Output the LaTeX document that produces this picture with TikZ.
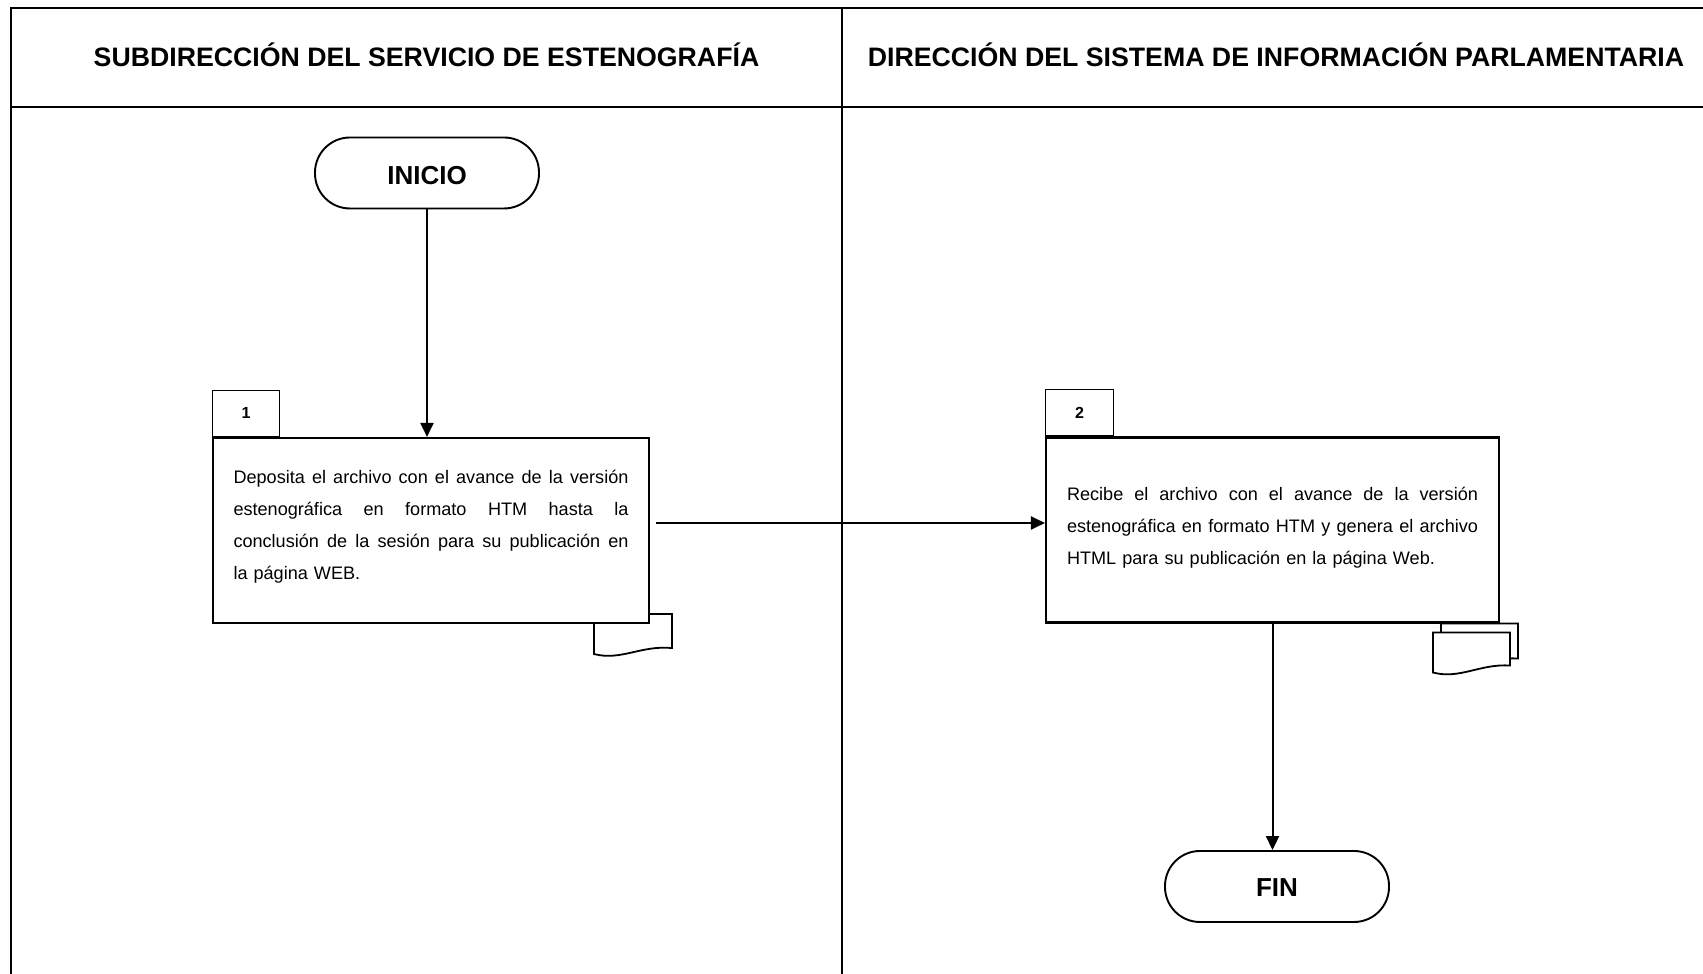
\documentclass[tikz,border=0pt]{standalone}
\usepackage{fontspec}
\setmainfont{Liberation Sans}
\usepackage{tikz}
\usetikzlibrary{arrows.meta, backgrounds}
\tikzstyle{terminal} = [rectangle, rounded corners=35pt, minimum width=224pt, minimum height=71pt, draw=black, line width=1.9pt, font=\fontsize{26}{30}\selectfont\bfseries]
\tikzstyle{process} = [rectangle, draw=black, fill=white, line width=2.1pt, minimum height=185pt, inner sep=0pt, align=left, font=\fontsize{18.1}{32}\selectfont]
\tikzstyle{tab} = [rectangle, draw=black, line width=1pt, minimum width=67pt, minimum height=46pt, inner sep=0pt, font=\fontsize{16}{18}\selectfont\bfseries]
\usetikzlibrary{positioning, calc}
\newcommand{\fila}[1]{\makebox[\hsize][s]{\spaceskip=0pt\xspaceskip=0pt #1}\\}

\begin{document}
\begin{tikzpicture}[x=1pt, y=1pt]
        \tikzstyle{lane} = [line width=2pt]
        \tikzstyle{doc} = [draw=black, fill=white, line width=1.8pt]
        \tikzstyle{flow} = [line width=2pt, -{Triangle[length=14pt,width=13pt]}]
        \useasboundingbox (0,0) rectangle (1703,974);

        % carriles
        \draw[lane] (11,0) -- (11,966.4) -- (1703,966.4);
        \draw[lane] (11,867) -- (1703,867);
        \draw[lane] (842,0) -- (842,966.4);
        \node[font=\fontsize{26.7}{30}\selectfont\bfseries] (lane1) at (426.5,919.5) {SUBDIRECCIÓN DEL SERVICIO DE ESTENOGRAFÍA};
        \node[font=\fontsize{26.7}{30}\selectfont\bfseries] (lane2) at (1276,919.5) {DIRECCIÓN DEL SISTEMA DE INFORMACIÓN PARLAMENTARIA};

        \node[terminal, text height=23pt, text depth=0pt] (inicio) at (427,801) {INICIO};

        \node[process, minimum width=436pt, text width=395pt] (paso1) at (431,443.5) {%
            \fila{Deposita el archivo con el avance de la versión}
            \fila{estenográfica en formato HTM hasta la}
            \fila{conclusión de la sesión para su publicación en}
            la página WEB.\par\kern7pt};
        \node[tab, anchor=south west] (tab1) at (paso1.north west) {1};

        \node[process, minimum width=453pt, text width=411pt] (paso2) at (1272.5,444) {%
            \fila{Recibe el archivo con el avance de la versión}
            \fila{estenográfica en formato HTM y genera el archivo}
            HTML para su publicación en la página Web.\par\kern5pt};
        \node[tab, anchor=south west, minimum width=68pt] (tab2) at (paso2.north west) {2};

        \node[terminal, text height=21pt, text depth=0pt] (fin) at (1277,87.5) {FIN};

        % documentos
        \begin{scope}[on background layer]
            \draw[doc, shift={(paso1.south east)}] (-56,10) -- (-56,-30) .. controls (-29,-37) and (-9,-21) .. (22,-24) -- (22,10) -- cycle;
            \draw[doc, shift={(paso2.south east)}] (-59,0) -- (-59,-42) .. controls (-32,-49) and (-12,-33) .. (18,-35) -- (18,0) -- cycle;
            \draw[doc, shift={(paso2.south east)}] (-67,-9) -- (-67,-49) .. controls (-40,-56) and (-20,-40) .. (10,-42) -- (10,-9) -- cycle;
        \end{scope}

        \coordinate (salida1) at ($(paso1.east)+(6,7.5)$);
        \draw[flow] (inicio.south) -- (inicio.south |- paso1.north);
        \draw[flow] (salida1) -- (salida1 -| paso2.west);
        \draw[flow] (paso2.south) -- (paso2.south |- fin.north);

    \end{tikzpicture}
\end{document}
